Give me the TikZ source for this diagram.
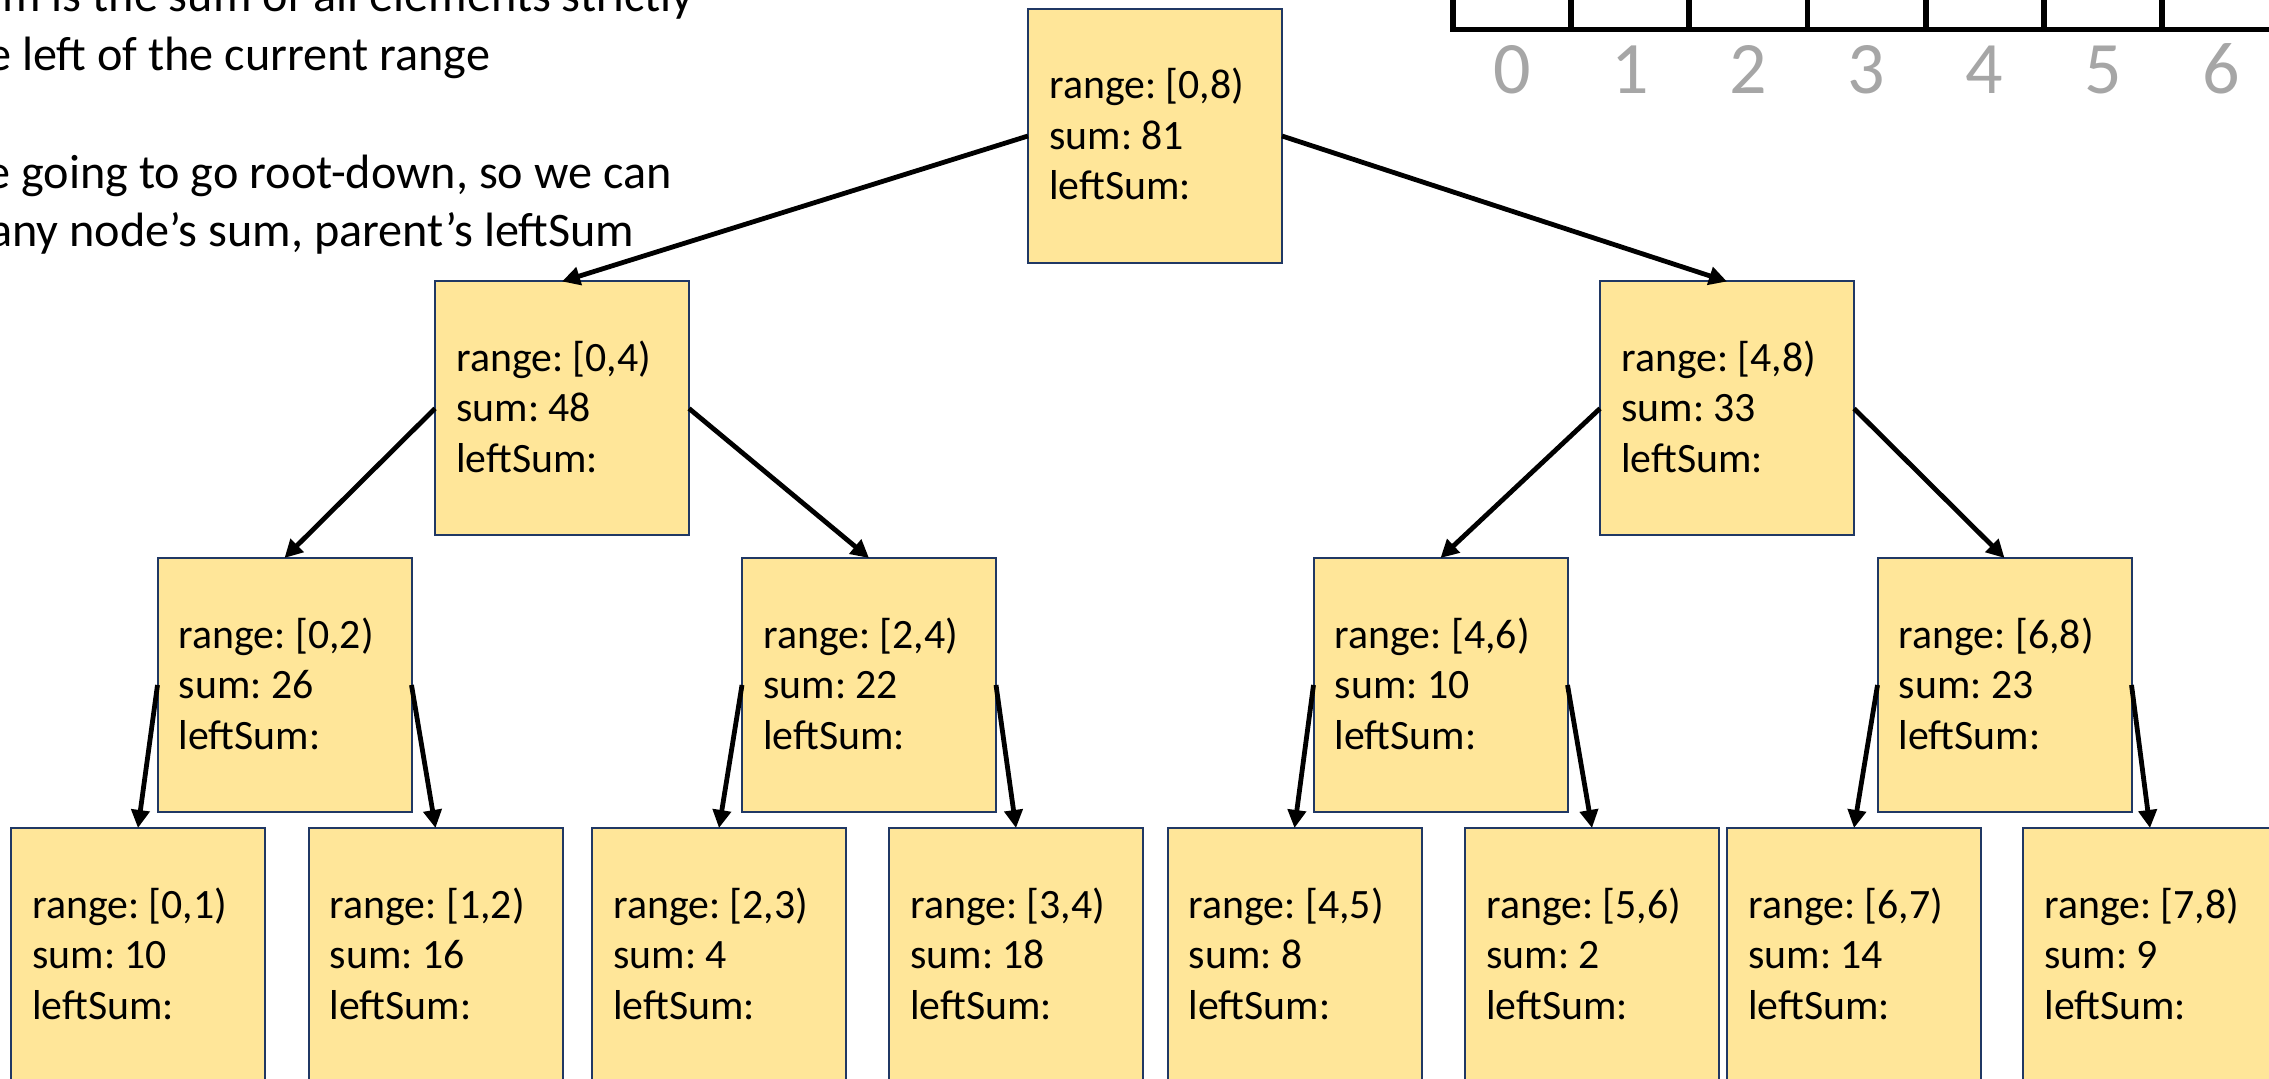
\documentclass[tikz,border=0pt]{standalone}
\usepackage{fontspec}
\setmainfont{Carlito}
\usetikzlibrary{arrows.meta}
\definecolor{boxfill}{HTML}{FFE699}
\definecolor{boxline}{HTML}{203864}
\definecolor{idxgray}{HTML}{A6A6A6}
\frenchspacing

% one tree node: name, x, y, range, sum
\newcommand\treebox[5]{%
  \node[tbox] (#1) at (#2,#3) {};
  \node[tlabel] (#1-txt) at ([xshift=10.5pt,yshift=-45pt]#1.north west)
    {\begin{tabular}[t]{@{}l@{}}range: #4\\ sum: #5\\ leftSum:\end{tabular}};
}

\begin{document}
\begin{tikzpicture}[x=0.5pt,y=-0.5pt,
  tbox/.style={draw=boxline, line width=1pt, fill=boxfill,
    minimum width=127pt, minimum height=127pt, inner sep=0pt, outer sep=0pt},
  tlabel/.style={anchor=base west, inner sep=0pt,
    font=\fontsize{20.9pt}{25.25pt}\selectfont},
  link/.style={draw=black, line width=2.4pt,
    -{Triangle[length=9pt,width=9pt]}},
  note/.style={anchor=base west, inner sep=0pt,
    font=\fontsize{24.1pt}{29pt}\selectfont},
  cell/.style={draw=black, line width=2.9pt},
  idx/.style={anchor=base, inner sep=0pt, text=idxgray,
    font=\fontsize{37pt}{44pt}\selectfont}
]
\useasboundingbox (0,0) rectangle (2269,1079);
\clip (0,0) rectangle (2269,1079);
\fill[white] (0,0) rectangle (2269,1079);

% explanatory notes, top left
\node[note] (n1) at (2,12)    {m is the sum of all elements strictly};
\node[note] (n2) at (-13,71)  {e left of the current range};
\node[note] (n3) at (-14,189) {e going to go root-down, so we can};
\node[note] (n4) at (-11,247) {any node’s sum, parent’s leftSum};

% input array with its indices
\foreach \i in {0,...,7} {
  \draw[cell] ({1453+118.15*\i},-40) rectangle ({1453+118.15*(\i+1)},29.5);
}
\foreach \i in {0,...,6} {
  \node[idx] (d\i) at ({1512+118.15*\i},94) {\i};
}

% tree nodes
\treebox{r}{1155}{136}{[0,8)}{81}
\treebox{a04}{562}{408.5}{[0,4)}{48}
\treebox{a48}{1727}{408.5}{[4,8)}{33}
\treebox{b02}{284.5}{685}{[0,2)}{26}
\treebox{b24}{869}{685}{[2,4)}{22}
\treebox{b46}{1440.5}{685}{[4,6)}{10}
\treebox{b68}{2004.5}{685}{[6,8)}{23}
\treebox{c0}{138}{955}{[0,1)}{10}
\treebox{c1}{435.5}{955}{[1,2)}{16}
\treebox{c2}{719}{955}{[2,3)}{4}
\treebox{c3}{1016}{955}{[3,4)}{18}
\treebox{c4}{1294.5}{955}{[4,5)}{8}
\treebox{c5}{1592}{955}{[5,6)}{2}
\treebox{c6}{1854}{955}{[6,7)}{14}
\treebox{c7}{2150}{955}{[7,8)}{9}

% parent-to-child connectors
\draw[link] (r.west) -- (a04.north);
\draw[link] (r.east) -- (a48.north);
\draw[link] (a04.west) -- (b02.north);
\draw[link] (a04.east) -- (b24.north);
\draw[link] (a48.west) -- (b46.north);
\draw[link] (a48.east) -- (b68.north);
\draw[link] (b02.west) -- (c0.north);
\draw[link] (b02.east) -- (c1.north);
\draw[link] (b24.west) -- (c2.north);
\draw[link] (b24.east) -- (c3.north);
\draw[link] (b46.west) -- (c4.north);
\draw[link] (b46.east) -- (c5.north);
\draw[link] (b68.west) -- (c6.north);
\draw[link] (b68.east) -- (c7.north);
\end{tikzpicture}
\end{document}
